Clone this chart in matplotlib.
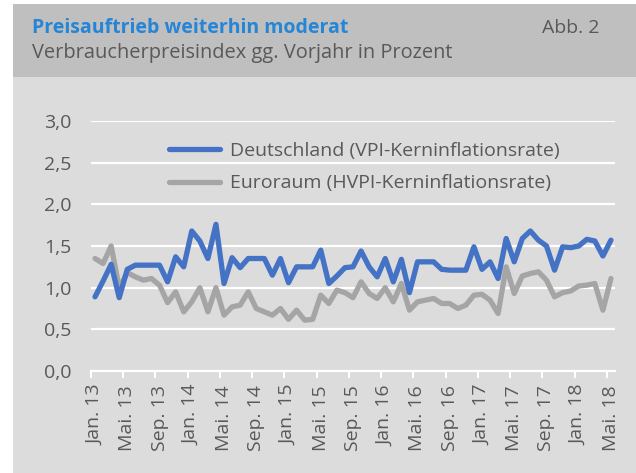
import matplotlib
matplotlib.use("Agg")
import matplotlib.pyplot as plt
import numpy as np

# monthly, Jan 2013 .. May 2018
months_de = ["Jan.", "Feb.", "Mrz.", "Apr.", "Mai.", "Jun.", "Jul.", "Aug.", "Sep.", "Okt.", "Nov.", "Dez."]
month_labels = [f"{months_de[m]} {13 + y}" for y in range(6) for m in range(12)][:65]

de_core = [0.89, 1.08, 1.28, 0.88, 1.22, 1.27, 1.27, 1.27, 1.27, 1.07,
           1.37, 1.25, 1.68, 1.56, 1.35, 1.76, 1.05, 1.36, 1.24, 1.35,
           1.35, 1.35, 1.15, 1.35, 1.06, 1.25, 1.25, 1.25, 1.45, 1.05,
           1.14, 1.24, 1.25, 1.44, 1.25, 1.13, 1.35, 1.07, 1.34, 0.94,
           1.31, 1.31, 1.31, 1.22, 1.21, 1.21, 1.21, 1.49, 1.22, 1.31,
           1.11, 1.59, 1.31, 1.59, 1.68, 1.57, 1.50, 1.21, 1.49, 1.48,
           1.50, 1.58, 1.56, 1.38, 1.57]
ez_core = [1.35, 1.29, 1.50, 1.00, 1.18, 1.13, 1.09, 1.11, 1.03, 0.82,
           0.95, 0.71, 0.83, 1.00, 0.71, 1.00, 0.67, 0.77, 0.79, 0.95,
           0.75, 0.71, 0.67, 0.75, 0.62, 0.73, 0.61, 0.62, 0.91, 0.81,
           0.97, 0.94, 0.88, 1.07, 0.93, 0.87, 1.00, 0.83, 1.05, 0.73,
           0.83, 0.85, 0.87, 0.81, 0.81, 0.75, 0.79, 0.91, 0.92, 0.85,
           0.69, 1.25, 0.93, 1.14, 1.17, 1.19, 1.09, 0.89, 0.94, 0.96,
           1.02, 1.03, 1.05, 0.73, 1.11]
yticks = [0.0, 0.5, 1.0, 1.5, 2.0, 2.5, 3.0]

BLUE = "#4472C4"
GREY = "#A5A5A5"
TEXT = "#595959"
plt.rcParams["font.family"] = ["Open Sans", "DejaVu Sans"]

W, H = 636, 473
fig = plt.figure(figsize=(W / 100, H / 100), dpi=100, facecolor="white")

# header band and panel background
fig.patches.append(plt.Rectangle((12.5 / W, 1 - 77 / H), 1, 73 / H, transform=fig.transFigure,
                                 facecolor="#BFBFBF", edgecolor="none", zorder=-2))
fig.patches.append(plt.Rectangle((12.5 / W, 0), 1, 1 - 77 / H, transform=fig.transFigure,
                                 facecolor="#DCDCDC", edgecolor="none", zorder=-2))

fig.text(32 / W, 1 - 33 / H, "Preisauftrieb weiterhin moderat", color="#2585D6",
         fontsize=14, fontweight="bold", ha="left", va="baseline")
fig.text(600 / W, 1 - 33 / H, "Abb. 2", color=TEXT, fontsize=14, ha="right", va="baseline")
fig.text(32 / W, 1 - 58 / H, "Verbraucherpreisindex gg. Vorjahr in Prozent", color=TEXT,
         fontsize=14.4, ha="left", va="baseline")

ax = fig.add_axes([91 / W, 1 - 371 / H, 524 / W, 250 / H])
ax.set_zorder(2)
ax.set_facecolor("none")
x = np.arange(len(de_core))
ax.plot(x, de_core, color=BLUE, lw=3.8, solid_joinstyle="round", solid_capstyle="round",
        label="Deutschland (VPI-Kerninflationsrate)", zorder=3)
ax.plot(x, ez_core, color=GREY, lw=3.8, solid_joinstyle="round", solid_capstyle="round",
        label="Euroraum (HVPI-Kerninflationsrate)", zorder=2)

ax.set_xlim(-0.5, len(x) - 0.5)
ax.set_ylim(0, 3.0)
ax.set_yticks(yticks)
ax.set_yticklabels([f"{v:.1f}".replace(".", ",") for v in yticks])
ax.grid(axis="y", color="white", lw=1.6)
ax.set_axisbelow(True)

# ticks at category boundaries, labels at category centres
ax.set_xticks(np.arange(0, len(x), 4) - 0.5)
ax.set_xticklabels([])
ax.set_xticks(np.arange(0, len(x), 4), minor=True)
ax.set_xticklabels(month_labels[::4], minor=True, rotation=90, fontsize=14, color=TEXT)
ax.tick_params(axis="x", which="major", length=5, width=1.5, color="white", direction="out")
ax.tick_params(axis="x", which="minor", length=0, pad=10)
ax.tick_params(axis="y", length=0, pad=14, labelsize=14, labelcolor=TEXT)
for s in ["top", "right", "left"]:
    ax.spines[s].set_visible(False)
ax.spines["bottom"].set_color("white")
ax.spines["bottom"].set_linewidth(1.6)

leg = ax.legend(loc="upper left", bbox_to_anchor=((168 - 91) / 524 - 0.012, 1 - (134 - 121) / 250),
                frameon=False, fontsize=14, handlelength=2.6, handletextpad=0.5,
                labelspacing=0.75, borderaxespad=0)
for t in leg.get_texts():
    t.set_color(TEXT)

fig.savefig("out.png", dpi=100, facecolor="white")
